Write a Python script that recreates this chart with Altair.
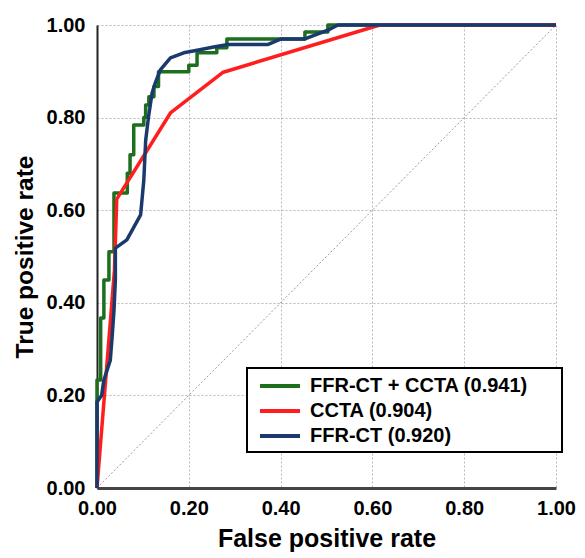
import altair as alt
import pandas as pd

series_names = ["FFR-CT + CCTA (0.941)", "CCTA (0.904)", "FFR-CT (0.920)"]
series_colors = ["#1d6e1d", "#ff1e1e", "#1a3a6e"]

combo_fpr = [0.0, 0.0, 0.008, 0.008, 0.015, 0.015, 0.026, 0.026, 0.037, 0.037, 0.066, 0.066,
             0.072, 0.072, 0.080, 0.080, 0.102, 0.102, 0.106, 0.106, 0.113, 0.113, 0.124, 0.124,
             0.134, 0.134, 0.200, 0.200, 0.218, 0.218, 0.261, 0.261, 0.283, 0.283, 0.453, 0.453,
             0.503, 0.503, 1.0]
combo_tpr = [0.0, 0.233, 0.233, 0.367, 0.367, 0.449, 0.449, 0.510, 0.510, 0.637, 0.637, 0.680,
             0.680, 0.720, 0.720, 0.784, 0.784, 0.800, 0.800, 0.827, 0.827, 0.845, 0.845, 0.867,
             0.867, 0.899, 0.899, 0.913, 0.913, 0.940, 0.940, 0.951, 0.951, 0.970, 0.970, 0.985,
             0.985, 1.0, 1.0]

ccta_fpr = [0.0, 0.038, 0.043, 0.160, 0.275, 0.616, 1.0]
ccta_tpr = [0.0, 0.470, 0.624, 0.810, 0.898, 1.0, 1.0]

ffrct_fpr = [0.0, 0.0, 0.010, 0.015, 0.029, 0.033, 0.037, 0.040, 0.040, 0.065, 0.095, 0.102,
             0.106, 0.112, 0.120, 0.127, 0.138, 0.160, 0.189, 0.221, 0.257, 0.286, 0.373, 0.401,
             0.453, 0.503, 0.525, 1.0]
ffrct_tpr = [0.0, 0.186, 0.200, 0.233, 0.276, 0.327, 0.384, 0.449, 0.518, 0.536, 0.590, 0.665,
             0.750, 0.800, 0.853, 0.875, 0.903, 0.929, 0.940, 0.946, 0.953, 0.958, 0.958, 0.970,
             0.970, 0.989, 1.0, 1.0]

diag_fpr = [0.0, 1.0]
diag_tpr = [0.0, 1.0]

tick_values = [0.0, 0.2, 0.4, 0.6, 0.8, 1.0]

curves = [(series_names[0], combo_fpr, combo_tpr),
          (series_names[1], ccta_fpr, ccta_tpr),
          (series_names[2], ffrct_fpr, ffrct_tpr)]

font = "Liberation Sans"

x_enc = alt.X("fpr:Q", scale=alt.Scale(domain=[0, 1], nice=False),
              axis=alt.Axis(values=tick_values, format=".2f", title="False positive rate"))
y_enc = alt.Y("tpr:Q", scale=alt.Scale(domain=[0, 1], nice=False),
              axis=alt.Axis(values=tick_values, format=".2f", title="True positive rate"))

color_enc = alt.Color("series:N",
                      scale=alt.Scale(domain=series_names, range=series_colors),
                      legend=alt.Legend(title=None, orient="none", legendX=150, legendY=343,
                                        symbolType="M-1,0H3", symbolSize=400,
                                        symbolStrokeWidth=4, labelFontSize=20,
                                        labelFont=font, labelFontWeight="bold",
                                        labelColor="black", labelLimit=0,
                                        labelExpr="datum.label + '\u00a0\u00a0\u00a0\u00a0\u00a0\u200b'",
                                        strokeColor="black", fillColor="white",
                                        padding=6, symbolOffset=5, rowPadding=3,
                                        labelOffset=28))

diag = alt.Chart(pd.DataFrame({"fpr": diag_fpr, "tpr": diag_tpr})).mark_line(
    color="#9a9a9a", strokeWidth=1, strokeDash=[2, 2]).encode(x=x_enc, y=y_enc)

layers = [diag]
for name, fx, fy in curves:
    df = pd.DataFrame({"fpr": fx, "tpr": fy, "series": name, "i": list(range(len(fx)))})
    layers.append(
        alt.Chart(df).mark_line(strokeWidth=3.5, strokeJoin="round").encode(
            x=x_enc, y=y_enc, color=color_enc, order="i:Q")
    )

chart = alt.layer(*layers).properties(
    width=459, height=463,
    autosize=alt.AutoSizeParams(type="none"),
    padding={"left": 89, "top": 17, "right": 21, "bottom": 68},
).configure_view(stroke=None).configure_axis(
    labelFont=font, labelFontWeight="bold", labelFontSize=20, labelColor="black",
    titleFont=font, titleFontWeight="bold", titleColor="black",
    grid=True, gridColor="#b8b8b8", gridDash=[2, 2], gridWidth=1,
    ticks=False, domainColor="#222222", domainWidth=2, labelFlush=False,
).configure_axisX(
    labelPadding=10, titlePadding=8, titleFontSize=25,
    domainColor="#444444", domainWidth=3,
).configure_axisY(
    labelPadding=12, titlePadding=9, titleFontSize=24.5,
).configure_legend(strokeWidth=2)

chart.save("out.html", embed_options={"renderer": "svg", "actions": False})
